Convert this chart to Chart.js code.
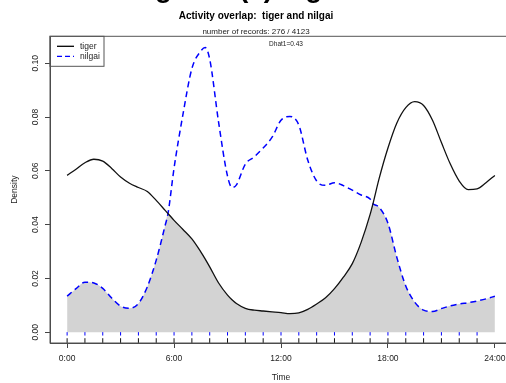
<!DOCTYPE html>
<html>
<head>
<meta charset="utf-8">
<script src="https://cdn.jsdelivr.net/npm/chart.js@4"></script>
<style>
  html, body { margin: 0; padding: 0; background: #fff; overflow: hidden; }
  #wrap { width: 520px; height: 383px; }
</style>
</head>
<body>
<div id="wrap"><canvas id="overlap" width="520" height="383"></canvas></div>
<script>
// time of day in hours
const hours = [0, 0.5, 1, 1.5, 2, 2.5, 3, 3.5, 4, 4.5, 5, 5.5, 5.66, 6, 6.5, 7, 7.5, 7.75, 8, 8.5, 9, 9.25, 9.5,
  10, 10.5, 11, 11.5, 12, 12.5, 13, 13.5, 14, 14.5, 15, 15.5, 16, 16.5, 17, 17.16, 17.5, 18, 18.5, 19, 19.5,
  20, 20.5, 21, 21.5, 22, 22.5, 23, 23.5, 24];
const tiger = [0.0583, 0.0606, 0.063, 0.0643, 0.0636, 0.0609, 0.0577, 0.0554, 0.0538, 0.0523, 0.049, 0.0453, 0.0441,
  0.0416, 0.0382, 0.0347, 0.0299, 0.0272, 0.0243, 0.0183, 0.0138, 0.0121, 0.0107,
  0.0089, 0.0082, 0.0079, 0.0076, 0.0073, 0.0069, 0.0072, 0.0085, 0.0105, 0.0128, 0.0162, 0.0205, 0.0255, 0.0335,
  0.0438, 0.0478, 0.057, 0.0685, 0.0778, 0.0835, 0.0857, 0.0843, 0.0788, 0.0705, 0.0625, 0.0562, 0.053, 0.0533,
  0.0556, 0.0583];
const nilgai = [0.0134, 0.0162, 0.0186, 0.0183, 0.0163, 0.0127, 0.0097, 0.0089, 0.0107, 0.0169, 0.0268, 0.0397, 0.0441,
  0.061, 0.081, 0.098, 0.1045, 0.1058, 0.1015, 0.078, 0.058, 0.0538, 0.0548,
  0.0625, 0.0652, 0.0685, 0.0725, 0.0788, 0.0802, 0.077, 0.064, 0.0562, 0.0546, 0.0556, 0.0545, 0.0528, 0.051,
  0.0495, 0.0478, 0.0465, 0.0405, 0.0278, 0.0172, 0.0112, 0.0082, 0.0077, 0.0088, 0.0098, 0.0105, 0.011, 0.0116,
  0.0124, 0.0134];
const tigerRug = [0, 1, 2, 3, 4, 5, 6, 7, 8, 9, 10, 11, 12, 13, 14, 15, 16, 17, 18, 19, 20, 21, 22, 23];
const nilgaiRug = [0, 1, 2, 3, 4, 5, 6, 7, 8, 9, 10, 11, 12, 13, 14, 15, 16, 17, 18, 19, 20, 21, 22, 23];
const xTicks = [0, 6, 12, 18, 24];
const yTicks = [0, 0.02, 0.04, 0.06, 0.08, 0.1];
const dhat = "Dhat1=0.43";

const font = "'Liberation Sans', Arial, sans-serif";

const pts = (ys) => hours.map((h, i) => ({ x: h, y: ys[i] }));
const overlapPts = hours.map((h, i) => ({ x: h, y: Math.min(tiger[i], nilgai[i]) }));

// box round the plot, legend, Dhat text and the cut-off heading
const extras = {
  id: "extras",
  afterDraw(chart) {
    const ctx = chart.ctx;
    const a = chart.chartArea;
    ctx.save();
    ctx.strokeStyle = "#555";
    ctx.lineWidth = 1;
    ctx.strokeRect(a.left, a.top, a.right - a.left, a.bottom - a.top);

    // legend
    ctx.strokeRect(a.left, a.top, 54, 30);
    ctx.strokeStyle = "#000";
    ctx.lineWidth = 1.3;
    ctx.beginPath();
    ctx.moveTo(a.left + 7, a.top + 10);
    ctx.lineTo(a.left + 24, a.top + 10);
    ctx.stroke();
    ctx.strokeStyle = "blue";
    ctx.setLineDash([5, 3]);
    ctx.beginPath();
    ctx.moveTo(a.left + 7, a.top + 20);
    ctx.lineTo(a.left + 24, a.top + 20);
    ctx.stroke();
    ctx.setLineDash([]);
    ctx.fillStyle = "#222";
    ctx.font = "8.5px " + font;
    ctx.textBaseline = "middle";
    ctx.textAlign = "left";
    ctx.fillText(chart.data.datasets[0].label, a.left + 30, a.top + 10);
    ctx.fillText(chart.data.datasets[1].label, a.left + 30, a.top + 20);

    ctx.font = "6.5px " + font;
    ctx.textAlign = "center";
    ctx.fillText(dhat, 286, a.top + 8);

    ctx.font = "bold 28px " + font;
    ctx.textAlign = "left";
    ctx.textBaseline = "alphabetic";
    ctx.fillStyle = "#000";
    ctx.fillText("Figure 1(a) Tiger", 130, -3.5);
    ctx.restore();
  },
};

new Chart(document.getElementById("overlap"), {
  type: "line",
  data: {
    datasets: [
      {
        label: "tiger",
        data: pts(tiger),
        borderColor: "#111",
        borderWidth: 1.3,
        pointRadius: 0,
        cubicInterpolationMode: "monotone",
        fill: false,
      },
      {
        label: "nilgai",
        data: pts(nilgai),
        borderColor: "blue",
        borderWidth: 1.5,
        borderDash: [6, 4],
        pointRadius: 0,
        cubicInterpolationMode: "monotone",
        fill: false,
      },
      {
        label: "tiger rug",
        type: "scatter",
        data: tigerRug.map((h) => ({ x: h, y: -0.00315 })),
        pointStyle: "line",
        rotation: 90,
        radius: 2.5,
        borderColor: "#111",
        borderWidth: 1,
        showLine: false,
      },
      {
        label: "nilgai rug",
        type: "scatter",
        data: nilgaiRug.map((h) => ({ x: h, y: -0.0006 })),
        pointStyle: "line",
        rotation: 90,
        radius: 1.7,
        borderColor: "blue",
        borderWidth: 1,
        showLine: false,
      },
      {
        label: "overlap",
        data: overlapPts,
        borderWidth: 0,
        borderColor: "rgba(0,0,0,0)",
        backgroundColor: "#d3d3d3",
        pointRadius: 0,
        cubicInterpolationMode: "monotone",
        fill: "origin",
      },
    ],
  },
  options: {
    responsive: false,
    animation: false,
    layout: { padding: { left: 0, right: 8, top: 0, bottom: 0 } },
    plugins: {
      legend: { display: false },
      tooltip: { enabled: false },
      title: {
        display: true,
        text: "Activity overlap:  tiger and nilgai",
        color: "#000",
        font: { family: font, size: 10, weight: "bold" },
        padding: { top: 10.7, bottom: 4 },
      },
      subtitle: {
        display: true,
        text: "number of records: 276 / 4123",
        color: "#222",
        font: { family: font, size: 8 },
        padding: { top: 0, bottom: 0 },
      },
    },
    scales: {
      x: {
        type: "linear",
        min: -0.96,
        max: 24.96,
        afterBuildTicks: (s) => { s.ticks = xTicks.map((v) => ({ value: v })); },
        afterFit: (s) => { s.height = 40; },
        ticks: {
          callback: (v) => v + ":00",
          color: "#222",
          font: { family: font, size: 8.5 },
          padding: 6,
          maxRotation: 0,
          autoSkip: false,
        },
        grid: { drawOnChartArea: false, drawTicks: true, tickLength: 5, color: "#444" },
        border: { display: true, color: "#444" },
        title: {
          display: true,
          text: "Time",
          color: "#222",
          font: { family: font, size: 8.5 },
          padding: { top: 0, bottom: 0 },
        },
      },
      y: {
        type: "linear",
        min: -0.004,
        max: 0.11,
        afterBuildTicks: (s) => { s.ticks = yTicks.map((v) => ({ value: v })); },
        afterFit: (s) => { s.width = 50; },
        ticks: {
          callback: (v) => v.toFixed(2),
          color: "#222",
          font: { family: font, size: 8.5 },
          minRotation: 90,
          maxRotation: 90,
          crossAlign: "center",
          padding: 1.5,
        },
        grid: { drawOnChartArea: false, drawTicks: true, tickLength: 5, color: "#444" },
        border: { display: true, color: "#444" },
        title: {
          display: true,
          text: "Density",
          color: "#222",
          font: { family: font, size: 8.5 },
          padding: { top: 10, bottom: 0 },
        },
      },
    },
  },
  plugins: [extras],
});
</script>
</body>
</html>
